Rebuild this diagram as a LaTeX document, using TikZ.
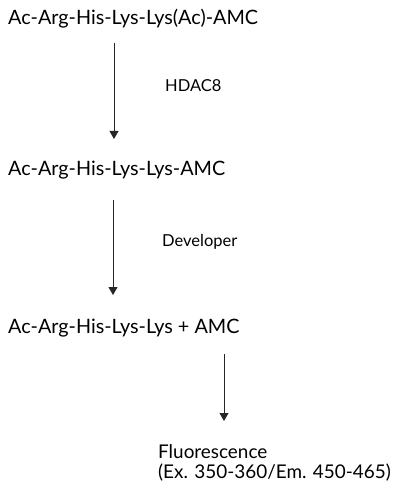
\documentclass[tikz,border=0pt]{standalone}
\usepackage{fontspec}
\setmainfont{Lato}
\usetikzlibrary{arrows.meta}

\tikzset{
  step text/.style={anchor=base west,inner sep=0pt,font=\fontsize{19.8bp}{23bp}\selectfont},
  enzyme text/.style={anchor=base west,inner sep=0pt,font=\fontsize{16.5bp}{19bp}\selectfont},
  flow/.style={-{Triangle[width=9bp,length=8bp]},line width=0.8bp,black!85}
}

\begin{document}
\begin{tikzpicture}[x=1bp,y=1bp]
\useasboundingbox (0,0) rectangle (396,-485);

\node (S1) at (8,-25) [step text] {Ac-Arg-His-Lys-Lys(Ac)-AMC};
\node (S2) at (8,-176) [step text] {Ac-Arg-His-Lys-Lys-AMC};
\node (S3) at (8,-333) [step text] {Ac-Arg-His-Lys-Lys + AMC};
\node (F) at (158,-459) [step text,align=left,anchor=north west,yshift=14.5bp,font=\fontsize{18.9bp}{19.5bp}\selectfont] {Fluorescence\\(Ex. 350-360/Em. 450-465)};

\node (E1) at (165,-92) [enzyme text] {HDAC8};
\node (E2) at (162,-246) [enzyme text] {Developer};

\coordinate (A1s) at (114,-43);
\coordinate (A1e) at (114,-139);
\coordinate (A2s) at (113,-200);
\coordinate (A2e) at (113,-295);
\coordinate (A3s) at (224,-354);
\coordinate (A3e) at (224,-421);

\draw [flow] (A1s) -- (A1e);
\draw [flow] (A2s) -- (A2e);
\draw [flow] (A3s) -- (A3e);
\end{tikzpicture}
\end{document}
